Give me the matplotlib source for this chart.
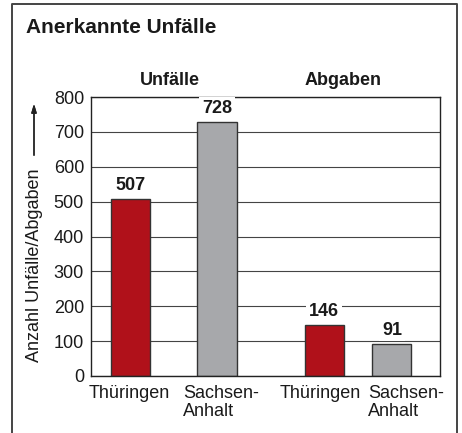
import matplotlib.pyplot as plt
from matplotlib.lines import Line2D

plt.rcParams['font.family'] = ['Liberation Sans', 'DejaVu Sans']

# data
title = 'Anerkannte Unfälle'
groups = ['Unfälle', 'Abgaben']
labels = ['Thüringen', 'Sachsen-\nAnhalt', 'Thüringen', 'Sachsen-\nAnhalt']
values = [507, 728, 146, 91]
colors = ['#b0111a', '#a7a8ab', '#b0111a', '#a7a8ab']
yticks = [0, 100, 200, 300, 400, 500, 600, 700, 800]
ylabel = 'Anzahl Unfälle/Abgaben'

# layout: bar positions (in bar widths), header positions, label nudges (px)
pos = [0, 2.22, 4.96, 6.69]
head_pos = [1.01, 5.44]
label_dx = [-1, 4, -4, 14]

W, H = 462, 433
fig = plt.figure(figsize=(W / 100, H / 100), dpi=100)
ax = fig.add_axes([91 / W, 57 / H, 349 / W, 279 / H])

ax.set_axisbelow(True)
ax.yaxis.grid(True, color='#444444', linewidth=0.8)
ax.bar(pos, values, width=1.0, color=colors, edgecolor='#333333', linewidth=1.0, zorder=2)

for x, v in zip(pos, values):
    ax.annotate(str(v), (x, v), xytext=(0, 4), textcoords='offset points',
                ha='center', va='bottom', fontsize=13, fontweight='bold', color='#1a1a1a',
                bbox=dict(boxstyle='square,pad=0.15', fc='white', ec='none'), zorder=3)

# category labels below the axis
for x, lab, dx in zip(pos, labels, label_dx):
    ax.annotate(lab, (x, 0), xycoords=('data', 'axes fraction'),
                xytext=(dx, -9), textcoords='offset pixels',
                ha='center', va='top', multialignment='left', fontsize=13,
                linespacing=1.05, color='#1a1a1a')

ax.set_xlim(-1, 7.92)
ax.set_ylim(0, 800)
ax.set_yticks(yticks)
ax.set_xticks([])
ax.tick_params(axis='y', length=0, pad=5, labelsize=13, labelcolor='#1a1a1a')
for s in ax.spines.values():
    s.set_color('#222222')
    s.set_linewidth(1.0)

# group headers
for hx, g in zip(head_pos, groups):
    ax.text(hx, 1.03, g, transform=ax.get_xaxis_transform(),
            ha='center', va='bottom', fontsize=13, fontweight='bold', color='#1a1a1a')

# title
fig.text(26 / W, 1 - 33 / H, title, ha='left', va='baseline', fontsize=15,
         fontweight='bold', color='#1a1a1a')

# y label with arrow
fig.text(35 / W, 1 - 362 / H, ylabel, rotation=90, ha='center', va='bottom',
         fontsize=13, color='#1a1a1a')
fig.add_artist(plt.annotate('', xy=(34 / W, 1 - 101 / H), xytext=(34 / W, 1 - 158 / H),
                            xycoords='figure fraction', textcoords='figure fraction',
                            arrowprops=dict(arrowstyle='-|>,head_length=0.5,head_width=0.15',
                                            color='#222222', lw=1.0)))

# outer frame
fc = '#444444'
fig.add_artist(Line2D([12 / W, 12 / W, 457 / W, 457 / W], [0, 1 - 4 / H, 1 - 4 / H, 0],
                      transform=fig.transFigure, color=fc, linewidth=1.4))

fig.savefig('out.png', dpi=100)
